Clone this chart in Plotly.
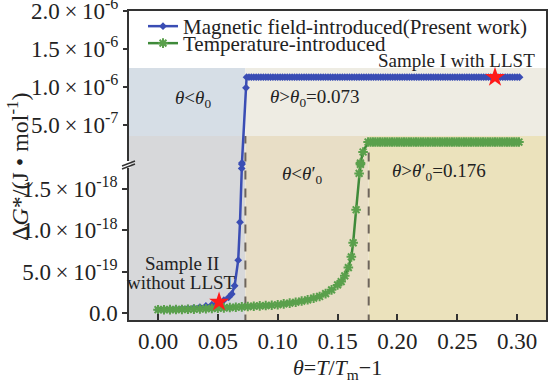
import numpy as np
import plotly.graph_objects as go

# ---------------- data ----------------
# Magnetic field-introduced, lower (broken) axis part, units 1e-18
theta_mag_low = [0.000, 0.005, 0.010, 0.015, 0.020, 0.025, 0.030, 0.035, 0.040, 0.045,
                 0.050, 0.055, 0.059, 0.0616, 0.064, 0.067, 0.0685, 0.0699, 0.0701]
dG_mag_low = [0.040, 0.042, 0.045, 0.048, 0.052, 0.057, 0.063, 0.072, 0.085, 0.100,
              0.125, 0.155, 0.190, 0.230, 0.330, 0.640, 1.100, 1.750, 1.800]
# upper axis part
theta_mag_jump = [0.0701, 0.0735]
dG_mag_jump = [0.0, 0.99e-6]
mag_plateau_value = 1.13e-6
theta_mag_plateau = np.round(np.arange(0.074, 0.3025, 0.002), 4)

# Temperature-introduced, lower axis part, units 1e-18
theta_tmp_low = [0.000, 0.005, 0.010, 0.015, 0.020, 0.025, 0.030, 0.035, 0.040, 0.045,
                 0.050, 0.055, 0.060, 0.065, 0.070, 0.075, 0.080, 0.085, 0.090, 0.095,
                 0.100, 0.105, 0.110, 0.115, 0.120, 0.125, 0.130, 0.135, 0.140, 0.145,
                 0.150, 0.153, 0.156, 0.159, 0.1615, 0.163, 0.1655, 0.168, 0.1691]
dG_tmp_low = [0.040, 0.040, 0.041, 0.042, 0.043, 0.045, 0.047, 0.049, 0.052, 0.055,
              0.058, 0.062, 0.066, 0.070, 0.074, 0.078, 0.082, 0.086, 0.090, 0.094,
              0.100, 0.110, 0.120, 0.130, 0.145, 0.160, 0.180, 0.200, 0.235, 0.280,
              0.340, 0.380, 0.450, 0.550, 0.680, 0.850, 1.250, 1.690, 1.800]
theta_tmp_jump = [0.1691, 0.1713]
dG_tmp_jump = [0.0, 1.45e-7]
tmp_plateau_value = 2.76e-7
theta_tmp_plateau = np.round(np.arange(0.1755, 0.3025, 0.002), 4)

# samples
sample2_theta, sample2_dG = [0.051], [0.133]      # lower axis (1e-18)
sample1_theta, sample1_dG = [0.2815], [1.13e-6]   # upper axis

theta0, theta0p = 0.073, 0.176

TS = "\u2009×\u2009"
x_ticks = [0.00, 0.05, 0.10, 0.15, 0.20, 0.25, 0.30]
x_ticktext = ["0.00", "0.05", "0.10", "0.15", "0.20", "0.25", "0.30"]
y_low_ticks = [0.0, 5e-19, 1.0e-18, 1.5e-18]
y_low_text = ["0.0", f"5.0{TS}10<sup>-19</sup>", f"1.0{TS}10<sup>-18</sup>", f"1.5{TS}10<sup>-18</sup>"]
y_up_ticks = [5e-7, 1.0e-6, 1.5e-6, 2.0e-6]
y_up_text = [f"5.0{TS}10<sup>-7</sup>", f"1.0{TS}10<sup>-6</sup>", f"1.5{TS}10<sup>-6</sup>", f"2.0{TS}10<sup>-6</sup>"]

# ---------------- styling ----------------
FONT = "Liberation Serif"
BLUE = "#3a4db4"
GREEN = "#3f8a3a"
GREEN_M = "#5aa04c"

E18 = 1e-18
low = lambda arr: [v * E18 for v in arr]

fig = go.Figure()

# blue lower
fig.add_trace(go.Scatter(x=theta_mag_low, y=low(dG_mag_low), mode="lines+markers",
                         line=dict(color=BLUE, width=2.5),
                         marker=dict(symbol="diamond", size=6, color=BLUE),
                         name="Magnetic field-introduced(Present work)", legend="legend",
                         legendgroup="mag", showlegend=True, yaxis="y"))
# green lower
fig.add_trace(go.Scatter(x=theta_tmp_low, y=low(dG_tmp_low), mode="lines+markers",
                         line=dict(color=GREEN, width=2.5),
                         marker=dict(symbol="asterisk-open", size=8, color=GREEN_M,
                                     line=dict(color=GREEN_M, width=2)),
                         name="Temperature-introduced", legend="legend2",
                         legendgroup="tmp", showlegend=True, yaxis="y"))
# lower star
fig.add_trace(go.Scatter(x=sample2_theta, y=low(sample2_dG), mode="markers",
                         marker=dict(symbol="star", size=15, color="#ff1a1a"),
                         showlegend=False, yaxis="y"))

# blue upper
fig.add_trace(go.Scatter(x=list(theta_mag_jump) + list(theta_mag_plateau),
                         y=list(dG_mag_jump) + [mag_plateau_value] * len(theta_mag_plateau),
                         mode="lines+markers", line=dict(color=BLUE, width=2.5),
                         marker=dict(symbol="diamond", size=6, color=BLUE),
                         legendgroup="mag", showlegend=False, yaxis="y2"))
# green upper
fig.add_trace(go.Scatter(x=list(theta_tmp_jump) + list(theta_tmp_plateau),
                         y=list(dG_tmp_jump) + [tmp_plateau_value] * len(theta_tmp_plateau),
                         mode="lines+markers", line=dict(color=GREEN, width=2.5),
                         marker=dict(symbol="asterisk-open", size=8, color=GREEN_M,
                                     line=dict(color=GREEN_M, width=2)),
                         legendgroup="tmp", showlegend=False, yaxis="y2"))
# upper star
fig.add_trace(go.Scatter(x=sample1_theta, y=sample1_dG, mode="markers",
                         marker=dict(symbol="star", size=15, color="#ff1a1a"),
                         showlegend=False, yaxis="y2"))

# ---------------- background regions (lower-axis units) ----------------
band_lo, band_hi = 2.143e-18, 2.966e-18
bottom = -1e-18
xl, xr = -0.05, 0.35
shapes = [
    dict(type="rect", xref="x", yref="y", x0=xl, x1=theta0, y0=band_lo, y1=band_hi,
         fillcolor="#d6dee6", line_width=0, layer="below"),
    dict(type="rect", xref="x", yref="y", x0=theta0, x1=xr, y0=band_lo, y1=band_hi,
         fillcolor="#eeece3", line_width=0, layer="below"),
    dict(type="rect", xref="x", yref="y", x0=xl, x1=theta0, y0=bottom, y1=band_lo,
         fillcolor="#d7d8da", line_width=0, layer="below"),
    dict(type="rect", xref="x", yref="y", x0=theta0, x1=theta0p, y0=bottom, y1=band_lo,
         fillcolor="#e8dec6", line_width=0, layer="below"),
    dict(type="rect", xref="x", yref="y", x0=theta0p, x1=xr, y0=bottom, y1=band_lo,
         fillcolor="#ebe2bc", line_width=0, layer="below"),
    dict(type="line", xref="x", yref="y", x0=theta0, x1=theta0, y0=bottom, y1=band_lo,
         line=dict(color="#6e655c", width=2, dash="dash"), layer="below"),
    dict(type="line", xref="x", yref="y", x0=theta0p, x1=theta0p, y0=bottom, y1=2.07e-18,
         line=dict(color="#6e655c", width=2, dash="dash"), layer="below"),
]

# axis break marks (paper coordinates)
def px(p):
    return (p - 129) / 417.0
def py(p):
    return (320 - p) / 309.0
shapes += [
    dict(type="rect", xref="paper", yref="paper", x0=px(121), x1=px(130.6), y0=py(168), y1=py(161),
         fillcolor="white", line_width=0, layer="above"),
    dict(type="line", xref="paper", yref="paper", x0=px(122), x1=px(135), y0=py(166), y1=py(161),
         line=dict(color="#333", width=1.5), layer="above"),
    dict(type="line", xref="paper", yref="paper", x0=px(122), x1=px(135), y0=py(169), y1=py(164),
         line=dict(color="#333", width=1.5), layer="above"),
]

ann_font = dict(family=FONT, size=19, color="#222")
def ann(x, y, yref, text, **kw):
    d = dict(x=x, y=y, xref="x", yref=yref, text=text, showarrow=False, font=ann_font,
             xanchor="center", yanchor="middle")
    d.update(kw)
    return d

annotations = [
    ann(0.249, 1.355e-6, "y2", "Sample I with LLST"),
    ann(0.0292, 8.45e-7, "y2", "<i>θ</i>&lt;<i>θ</i><sub>0</sub>"),
    ann(0.1312, 8.55e-7, "y2", "<i>θ</i>&gt;<i>θ</i><sub>0</sub>=0.073"),
    ann(0.1211, 1.67e-18, "y", "<i>θ</i>&lt;<i>θ</i>′<sub>0</sub>"),
    ann(0.2348, 1.707e-18, "y", "<i>θ</i>&gt;<i>θ</i>′<sub>0</sub>=0.176"),
    ann(0.0200, 0.605e-18, "y", "Sample II"),
    ann(0.0200, 0.375e-18, "y", "without LLST"),
    dict(x=px(18), y=py(167), xref="paper", yref="paper", textangle=-90,
         xanchor="center", yanchor="middle",
         text="Δ<i>G</i>*/(J • mol<sup>-1</sup>)", showarrow=False,
         font=dict(family=FONT, size=24, color="#222")),
    dict(x=px(337), y=py(369), xref="paper", yref="paper",
         xanchor="center", yanchor="middle",
         text="<i>θ</i>=<i>T</i>/<i>T</i><sub>m</sub>−1", showarrow=False,
         font=dict(family=FONT, size=22, color="#222")),
]

tick_font = dict(family=FONT, size=23, color="#222")
fig.update_layout(
    width=548, height=383,
    margin=dict(l=129, r=2, t=11, b=63, autoexpand=False),
    paper_bgcolor="white", plot_bgcolor="#ffffff",
    xaxis=dict(range=[-0.02423, 0.3241], tickvals=x_ticks, ticktext=x_ticktext,
               ticks="inside", ticklen=6, tickwidth=1.5, tickcolor="#333",
               showline=True, linecolor="#333", linewidth=1.5, mirror=True,
               showgrid=False, zeroline=False, tickfont=tick_font, automargin=False),
    yaxis=dict(range=[-0.0847e-18, 3.656e-18], tickvals=y_low_ticks, ticktext=y_low_text,
               ticks="outside", ticklen=5, tickwidth=1.5, tickcolor="#333",
               showline=True, linecolor="#333", linewidth=1.5, mirror=True,
               showgrid=False, zeroline=False, tickfont=tick_font, automargin=False,
               ticklabeloverflow="allow"),
    yaxis2=dict(range=[-2.0658e-6, 2.0005e-6], tickvals=y_up_ticks, ticktext=y_up_text,
                overlaying="y", side="left", anchor="x",
                ticks="outside", ticklen=5, tickwidth=1.5, tickcolor="#333",
                showline=False, showgrid=False, zeroline=False, tickfont=tick_font,
                automargin=False, ticklabeloverflow="allow"),
    legend=dict(x=px(143), y=py(6), xanchor="left", yanchor="top",
                bgcolor="rgba(0,0,0,0)", font=dict(family=FONT, size=21, color="#222")),
    legend2=dict(x=px(143), y=py(23), xanchor="left", yanchor="top",
                 bgcolor="rgba(0,0,0,0)", font=dict(family=FONT, size=21, color="#222")),
    shapes=shapes, annotations=annotations,
)

fig.write_html("out.html", config={"displayModeBar": False},
               post_script="document.body.style.margin='0px';")
